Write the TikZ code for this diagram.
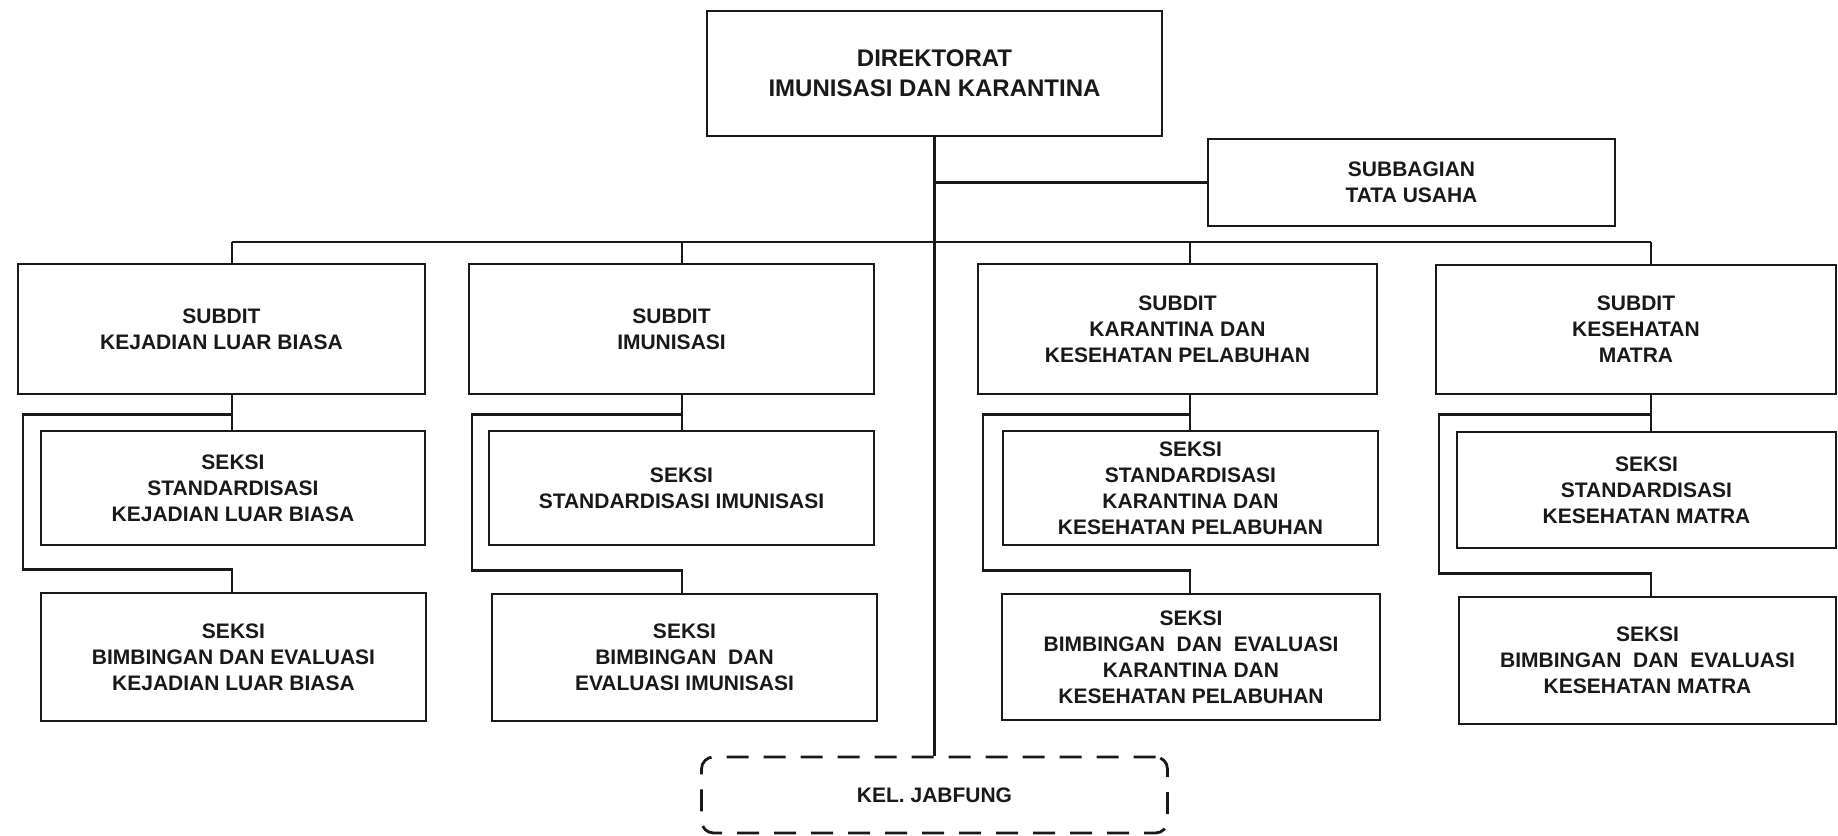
\documentclass[tikz,border=0pt]{standalone}
\usepackage{fontspec}
\setmainfont{Liberation Sans}
\usetikzlibrary{calc}
\newcommand\orgfont{\fontsize{21}{26}\selectfont\bfseries}
\newcommand\orgbigfont{\fontsize{24}{30}\selectfont\bfseries}
\begin{document}
\begin{tikzpicture}[x=1pt,y=-1pt,
  orgbox/.style={draw=black!90, text=black!90, line width=2.8pt, inner sep=0pt, align=center, font=\orgfont},
  conn/.style={draw=black!90, line width=2.4pt},
  dashbox/.style={orgbox, dash pattern=on 22pt off 15pt, rounded corners=12pt}]
\useasboundingbox (0,0) rectangle (1838,835);
% top
\node[orgbox, font=\orgbigfont, minimum width=455pt, minimum height=125pt] (dir) at (934.5,73.5) {DIREKTORAT\\IMUNISASI DAN KARANTINA};
\node[orgbox, minimum width=407pt, minimum height=87pt] (sub) at (1411.5,182.5) {SUBBAGIAN\\TATA USAHA};
% subdit
\node[orgbox, minimum width=407pt, minimum height=130pt] (sA) at (221.5,329) {SUBDIT\\KEJADIAN LUAR BIASA};
\node[orgbox, minimum width=405pt, minimum height=130pt] (sB) at (671.5,329) {SUBDIT\\IMUNISASI};
\node[orgbox, minimum width=399pt, minimum height=130pt] (sC) at (1177.5,329) {SUBDIT\\KARANTINA DAN\\KESEHATAN PELABUHAN};
\node[orgbox, minimum width=400pt, minimum height=129pt] (sD) at (1636,329.5) {SUBDIT\\KESEHATAN\\MATRA};
% seksi 1
\node[orgbox, minimum width=384pt, minimum height=114pt] (kA1) at (233,488) {SEKSI\\STANDARDISASI\\KEJADIAN LUAR BIASA};
\node[orgbox, minimum width=385pt, minimum height=114pt] (kB1) at (681.5,488) {SEKSI\\STANDARDISASI IMUNISASI};
\node[orgbox, minimum width=375pt, minimum height=114pt] (kC1) at (1190.5,488) {SEKSI\\STANDARDISASI\\KARANTINA DAN\\KESEHATAN PELABUHAN};
\node[orgbox, minimum width=379pt, minimum height=116pt] (kD1) at (1646.5,490) {SEKSI\\STANDARDISASI\\KESEHATAN MATRA};
% seksi 2
\node[orgbox, minimum width=385pt, minimum height=128pt] (kA2) at (233.5,657) {SEKSI\\BIMBINGAN DAN EVALUASI\\KEJADIAN LUAR BIASA};
\node[orgbox, minimum width=385pt, minimum height=127pt] (kB2) at (684.5,657.5) {SEKSI\\BIMBINGAN\ \ DAN\\EVALUASI IMUNISASI};
\node[orgbox, minimum width=378pt, minimum height=126pt] (kC2) at (1191,657) {SEKSI\\BIMBINGAN\ \ DAN\ \ EVALUASI\\KARANTINA DAN\\KESEHATAN PELABUHAN};
\node[orgbox, minimum width=377pt, minimum height=127pt] (kD2) at (1647.5,660.5) {SEKSI\\BIMBINGAN\ \ DAN\ \ EVALUASI\\KESEHATAN MATRA};
% kel jabfung
\node[dashbox, minimum width=466pt, minimum height=76pt] (kel) at (934.5,795) {KEL. JABFUNG};
% column coordinates
\coordinate (xA) at (232,0);  \coordinate (bA) at (23,0);
\coordinate (xB) at (682,0);  \coordinate (bB) at (472,0);
\coordinate (xC) at (1190,0); \coordinate (bC) at (983,0);
\coordinate (xD) at (1651,0); \coordinate (bD) at (1439,0);
\coordinate (bus) at (934.5,242);
% main connectors
\draw[conn] (dir.south) -- (kel.north);
\draw[conn] (sub.west) -- (sub.west -| dir.south);
\draw[conn] (bus -| xA) -- (bus -| xD);
\foreach \c in {A,B,C,D}{
  \draw[conn] (bus -| x\c) -- (s\c.north -| x\c);
  \draw[conn] (s\c.south -| x\c) -- (k\c1.north -| x\c);
  \path (s\c.south -| x\c) ++(0,19) coordinate (t\c);
  \draw[conn] (k\c2.north -| x\c) -- ++(0,-22) -| (b\c |- t\c) -- (t\c);
}
\end{tikzpicture}
\end{document}
